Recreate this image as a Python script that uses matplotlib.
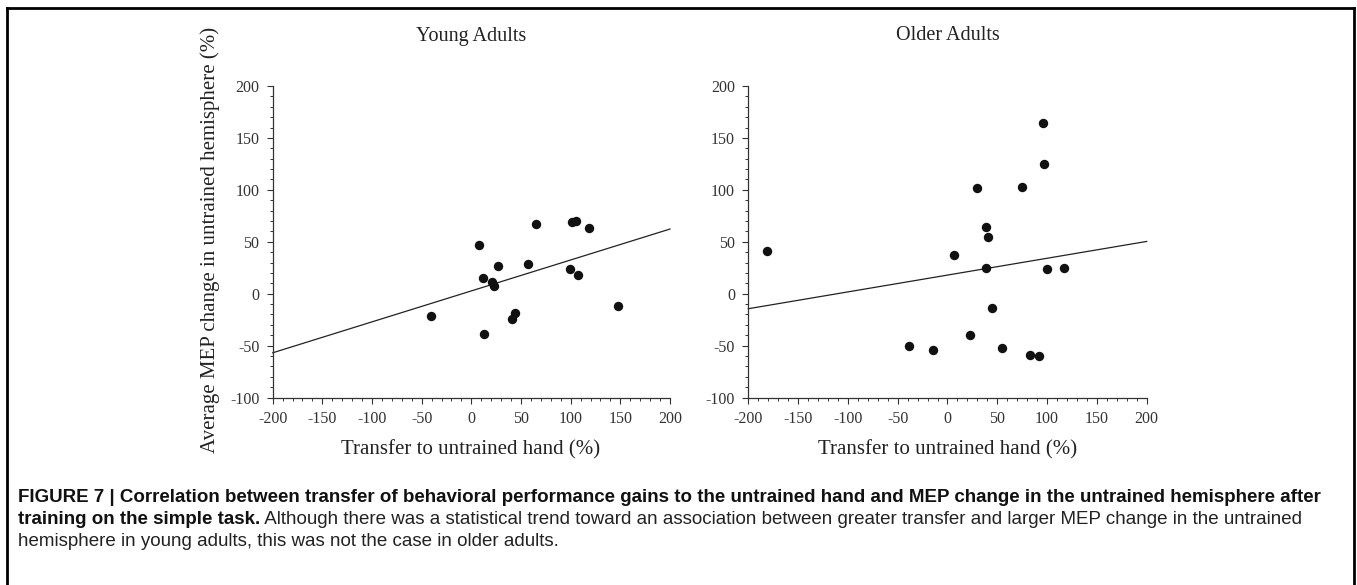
import matplotlib
matplotlib.use("Agg")
import matplotlib.pyplot as plt
from matplotlib.lines import Line2D
from matplotlib.ticker import MultipleLocator
import numpy as np

plt.rcParams["axes.unicode_minus"] = False

# ---------------- data ----------------
young_transfer = [-40.6, 7.8, 11.5, 12.5, 20.5, 23.2, 26.9, 41.3, 44.3, 56.8,
                  65.2, 99.7, 101.7, 105.4, 107.8, 118.9, 148.0]
young_mep = [-21.6, 46.4, 14.9, -38.7, 11.6, 7.4, 26.5, -24.2, -19.0, 28.7,
             66.7, 24.2, 69.3, 70.0, 17.8, 63.5, -12.2]
young_fit = {"slope": 0.298, "intercept": 2.65}

older_transfer = [-181.5, -38.2, -14.8, 6.7, 22.4, 29.8, 38.2, 40.8, 38.5, 44.8,
                  54.9, 74.3, 82.7, 92.0, 96.0, 96.4, 99.8, 116.5]
older_mep = [41.3, -50.3, -54.7, 37.7, -39.9, 101.9, 64.5, 54.8, 25.1, -13.5,
             -52.8, 103.2, -58.6, -59.6, 164.4, 124.8, 23.9, 24.5]
older_fit = {"slope": 0.162, "intercept": 17.9}

titles = ["Young Adults", "Older Adults"]
xlabel = "Transfer to untrained hand (%)"
ylabel = "Average MEP change in untrained hemisphere (%)"
caption_bold1 = ("FIGURE 7 | Correlation between transfer of behavioral performance gains to "
                 "the untrained hand and MEP change in the untrained hemisphere after")
caption_bold2 = "training on the simple task."
caption_norm2 = (" Although there was a statistical trend toward an association between "
                 "greater transfer and larger MEP change in the untrained")
caption_norm3 = "hemisphere in young adults, this was not the case in older adults."

# ---------------- figure ----------------
W, H = 1357, 585
fig = plt.figure(figsize=(W / 100, H / 100), dpi=100)
fig.patch.set_facecolor("white")

serif = ["Liberation Serif", "DejaVu Serif"]
sans = ["Liberation Sans", "DejaVu Sans"]

def px(x, y):
    return x / W, 1 - y / H

ax_boxes = [
    (272.7 / W, 1 - 397.5 / H, 397.3 / W, 311.5 / H),
    (748.3 / W, 1 - 397.5 / H, 398.4 / W, 311.5 / H),
]
datasets = [(young_transfer, young_mep, young_fit), (older_transfer, older_mep, older_fit)]
title_x = [471, 947.5]

for i, (box, (xs, ys, fit)) in enumerate(zip(ax_boxes, datasets)):
    ax = fig.add_axes(box)
    ax.set_xlim(-200, 200)
    ax.set_ylim(-100, 200)
    ax.scatter(xs, ys, s=46, color="#111111", zorder=3, linewidths=0)
    lx = np.array(ax.get_xlim())
    ax.plot(lx, fit["intercept"] + fit["slope"] * lx, color="#222222", lw=0.9, zorder=2,
            clip_on=False)
    for s in ["top", "right"]:
        ax.spines[s].set_visible(False)
    for s in ["left", "bottom"]:
        ax.spines[s].set_color("#333333")
        ax.spines[s].set_linewidth(0.9)
    ax.xaxis.set_major_locator(MultipleLocator(50))
    ax.xaxis.set_minor_locator(MultipleLocator(10))
    ax.yaxis.set_major_locator(MultipleLocator(50))
    ax.yaxis.set_minor_locator(MultipleLocator(10))
    ax.tick_params(which="major", direction="out", length=4.5, width=0.8, color="#333333",
                   labelsize=11.5, labelcolor="#333333", pad=5)
    ax.tick_params(which="minor", direction="out", length=2.5, width=0.7, color="#333333")
    for lab in ax.get_xticklabels() + ax.get_yticklabels():
        lab.set_family(serif)
    ax.set_facecolor("none")
    fig.text(*px(title_x[i], 36), titles[i], ha="center", va="center", fontsize=14.5,
             family=serif, color="#222222")
    fig.text(*px(title_x[i], 450), xlabel, ha="center", va="center", fontsize=15,
             family=serif, color="#222222")

fig.text(*px(210, 240), ylabel, ha="center", va="center", rotation=90, fontsize=15,
         family=serif, color="#222222")

# caption
fs_cap = 13.5
fig.text(*px(18, 498), caption_bold1, ha="left", va="center", fontsize=fs_cap,
         family=sans, weight="bold", color="#111111")
t2 = fig.text(*px(18, 519), caption_bold2, ha="left", va="center", fontsize=fs_cap,
              family=sans, weight="bold", color="#111111")
renderer = fig.canvas.get_renderer()
bb = t2.get_window_extent(renderer=renderer)
fig.text(bb.x1 / W, 1 - 519 / H, caption_norm2, ha="left", va="center", fontsize=fs_cap,
         family=sans, color="#222222")
fig.text(*px(18, 542), caption_norm3, ha="left", va="center", fontsize=fs_cap,
         family=sans, color="#222222")

# frame (left, top, right)
for (x0, y0, x1, y1) in [(7, 8, 7, 585), (7, 8, 1354, 8), (1354, 8, 1354, 585)]:
    fig.add_artist(Line2D([x0 / W, x1 / W], [1 - y0 / H, 1 - y1 / H], color="black",
                          lw=2.0, transform=fig.transFigure))

fig.savefig("out.png", dpi=100)
